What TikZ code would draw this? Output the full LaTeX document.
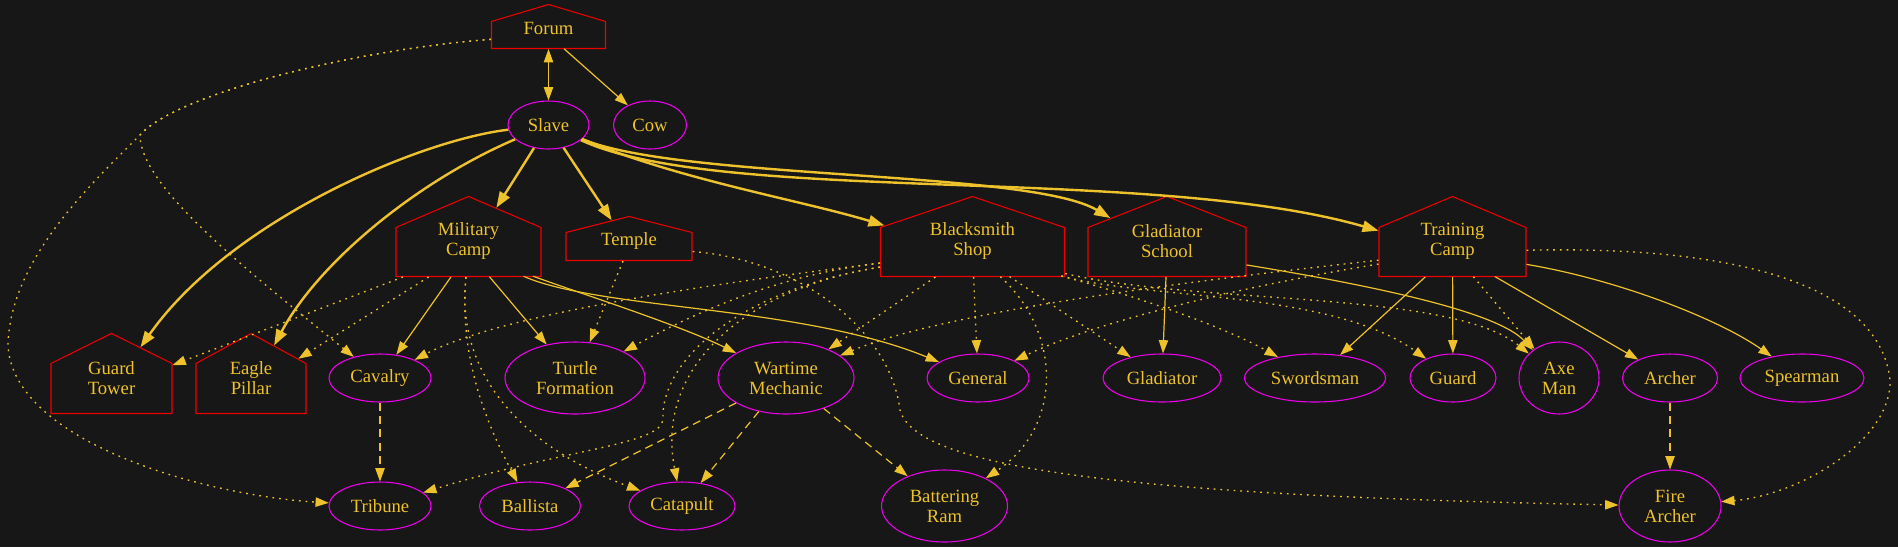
\documentclass[tikz,border=0pt]{standalone}
\usepackage{fontspec}
\setmainfont{Liberation Serif}
\usetikzlibrary{shapes.symbols,shapes.geometric,arrows.meta}
\definecolor{bg}{HTML}{171717}
\definecolor{gold}{HTML}{EEC22C}
\definecolor{hred}{HTML}{EE0000}
\definecolor{mag}{HTML}{EE00EE}
\begin{document}
\begin{tikzpicture}[x=0.75pt,y=-0.75pt,
  font=\fontsize{14}{15}\selectfont,
  >={Triangle[length=10pt,width=7pt]},
  unit/.style={ellipse, draw=mag, line width=0.8pt, text=gold, align=center, inner sep=0pt},
  house/.style={signal, signal to=north, signal from=nowhere, draw=hred, line width=0.8pt, inner sep=0pt, anchor=south},
  ht/.style={text=gold, align=center, inner sep=0pt},
  e/.style={draw=gold, line width=0.9pt, ->},
  te/.style={draw=gold, line width=1.8pt, -{Triangle[length=12pt,width=8.5pt]}},
  dot/.style={e, line width=1pt, dash pattern=on 1.3pt off 3.7pt},
  dsh/.style={e, dash pattern=on 6pt off 4pt},
]
\fill[bg] (0,0) rectangle (1898,547);
\useasboundingbox (0,0) rectangle (1898,547);

% houses
\node[house, minimum width=85.5pt, minimum height=20.25pt, signal pointer angle=146.8,
  label={[ht,yshift=4.5pt]center:Forum}] (forum) at (548.5,49) {};
\node[house, minimum width=108.75pt, minimum height=36.75pt, signal pointer angle=133.7,
  label={[ht,yshift=8pt]center:{Military\\Camp}}] (mil) at (468.5,277) {};
\node[house, minimum width=94.5pt, minimum height=21pt, signal pointer angle=151.5,
  label={[ht,yshift=4pt]center:Temple}] (temple) at (629,261) {};
\node[house, minimum width=138pt, minimum height=36.75pt, signal pointer angle=142.8,
  label={[ht,yshift=8pt]center:{Blacksmith\\Shop}}] (black) at (972.5,277) {};
\node[house, minimum width=118.5pt, minimum height=36.75pt, signal pointer angle=137.1,
  label={[ht,yshift=8pt]center:{Gladiator\\School}}] (gsch) at (1167,277) {};
\node[house, minimum width=110.25pt, minimum height=36.75pt, signal pointer angle=134.3,
  label={[ht,yshift=8pt]center:{Training\\Camp}}] (train) at (1452.5,277) {};
\node[house, minimum width=90.75pt, minimum height=37.5pt, signal pointer angle=127.2,
  label={[ht,yshift=8pt]center:{Guard\\Tower}}] (gtower) at (111.5,414) {};
\node[house, minimum width=82.5pt, minimum height=37.5pt, signal pointer angle=122.8,
  label={[ht,yshift=8pt]center:{Eagle\\Pillar}}] (eagle) at (251,414) {};

% units
\node[unit, minimum width=60.75pt, minimum height=36pt] (slave) at (548.5,125) {Slave};
\node[unit, minimum width=54.75pt, minimum height=36pt] (cow) at (650,125) {Cow};
\node[unit, minimum width=76.5pt, minimum height=36pt] (cavalry) at (380,378) {Cavalry};
\node[unit, minimum width=105pt, minimum height=54pt] (turtle) at (575,378) {Turtle\\Formation};
\node[unit, minimum width=102pt, minimum height=54pt] (wartime) at (786,378) {Wartime\\Mechanic};
\node[unit, minimum width=76.5pt, minimum height=36pt] (general) at (978,378) {General};
\node[unit, minimum width=88.5pt, minimum height=36pt] (gladiator) at (1162,378) {Gladiator};
\node[unit, minimum width=105.75pt, minimum height=36pt] (swordsman) at (1315,378) {Swordsman};
\node[unit, minimum width=64.5pt, minimum height=36pt] (guard) at (1453,378) {Guard};
\node[unit, minimum width=60pt, minimum height=54pt] (axe) at (1559,378) {Axe\\Man};
\node[unit, minimum width=71.25pt, minimum height=36pt] (archer) at (1670,378) {Archer};
\node[unit, minimum width=93pt, minimum height=36pt] (spearman) at (1802,378) {Spearman};
\node[unit, minimum width=76.5pt, minimum height=36pt] (tribune) at (380,506) {Tribune};
\node[unit, minimum width=75.75pt, minimum height=36pt] (ballista) at (530,506) {Ballista};
\node[unit, minimum width=79.5pt, minimum height=36pt] (catapult) at (682,506) {Catapult};
\node[unit, minimum width=94.5pt, minimum height=54pt] (ram) at (944.5,506) {Battering\\Ram};
\node[unit, minimum width=76.5pt, minimum height=54pt] (firearch) at (1670,506) {Fire\\Archer};

% bend points
\coordinate (fbend) at (140,135);
\coordinate (floop) at (8,345);
\coordinate (tfmid) at (900,410);
\coordinate (btmid) at (663,420);
\coordinate (tcloop) at (1890,380);

% Forum
\draw[e,<->] (forum) -- (slave);
\draw[e] (forum) -- (cow);
\draw[dot] (forum) .. controls (350,50) and (175,95) .. (fbend) .. controls (90,185) and (10,260) .. (floop) .. controls (12,440) and (200,495) .. (tribune);
\draw[dot] (forum) .. controls (350,50) and (175,95) .. (fbend) .. controls (140,185) and (240,265) .. (cavalry);

% Slave
\draw[te] (slave) -- (mil);
\draw[te] (slave) -- (temple);
\draw[te] (slave) .. controls (680,180) and (800,200) .. (black);
\draw[te] (slave) .. controls (680,180) and (1030,170) .. (gsch);
\draw[te] (slave) .. controls (720,205) and (1150,165) .. (train);
\draw[te] (slave) .. controls (420,140) and (230,220) .. (gtower);
\draw[te] (slave) .. controls (420,180) and (320,260) .. (eagle);

% Military Camp
\draw[e] (mil) -- (cavalry);
\draw[e] (mil) -- (turtle);
\draw[e] (mil) .. controls (570,290) and (680,325) .. (wartime);
\draw[e] (mil) .. controls (600,310) and (800,305) .. (general);
\draw[dot] (mil) -- (gtower);
\draw[dot] (mil) -- (eagle);
\draw[dot] (mil) .. controls (458,360) and (490,430) .. (ballista);
\draw[dot] (mil) .. controls (455,380) and (530,450) .. (catapult);

% Temple
\draw[dot] (temple) -- (turtle);
\draw[dot] (temple) .. controls (800,260) and (890,330) .. (tfmid) .. controls (915,465) and (1100,495) .. (firearch);

% Blacksmith Shop
\draw[dot] (black) .. controls (700,285) and (500,315) .. (cavalry);
\draw[dot] (black) .. controls (780,275) and (700,310) .. (turtle);
\draw[dot] (black) .. controls (740,290) and (655,370) .. (catapult);
\draw[dot] (black) .. controls (740,290) and (660,360) .. (btmid) .. controls (660,445) and (560,450) .. (tribune);
\draw[dot] (black) -- (wartime);
\draw[dot] (black) -- (general);
\draw[dot] (black) .. controls (1060,330) and (1065,425) .. (ram);
\draw[dot] (black) -- (gladiator);
\draw[dot] (black) .. controls (1150,300) and (1230,330) .. (swordsman);
\draw[dot] (black) .. controls (1150,300) and (1330,290) .. (guard);
\draw[dot] (black) .. controls (1200,305) and (1450,290) .. (axe);

% Gladiator School
\draw[e] (gsch) -- (gladiator);
\draw[e] (gsch) .. controls (1400,290) and (1500,315) .. (axe);

% Training Camp
\draw[dot] (train) .. controls (1250,285) and (1100,320) .. (general);
\draw[dot] (train) .. controls (1200,280) and (950,310) .. (wartime);
\draw[e] (train) -- (swordsman);
\draw[e] (train) -- (guard);
\draw[dot] (train) -- (axe);
\draw[e] (train) -- (archer);
\draw[e] (train) .. controls (1620,280) and (1720,320) .. (spearman);
\draw[dot] (train) .. controls (1750,245) and (1880,290) .. (tcloop) .. controls (1892,440) and (1800,495) .. (firearch);

% units
\draw[dsh] (cavalry) -- (tribune);
\draw[dsh] (archer) -- (firearch);
\draw[dsh] (wartime) -- (ballista);
\draw[dsh] (wartime) -- (catapult);
\draw[dsh] (wartime) -- (ram);
\end{tikzpicture}
\end{document}
